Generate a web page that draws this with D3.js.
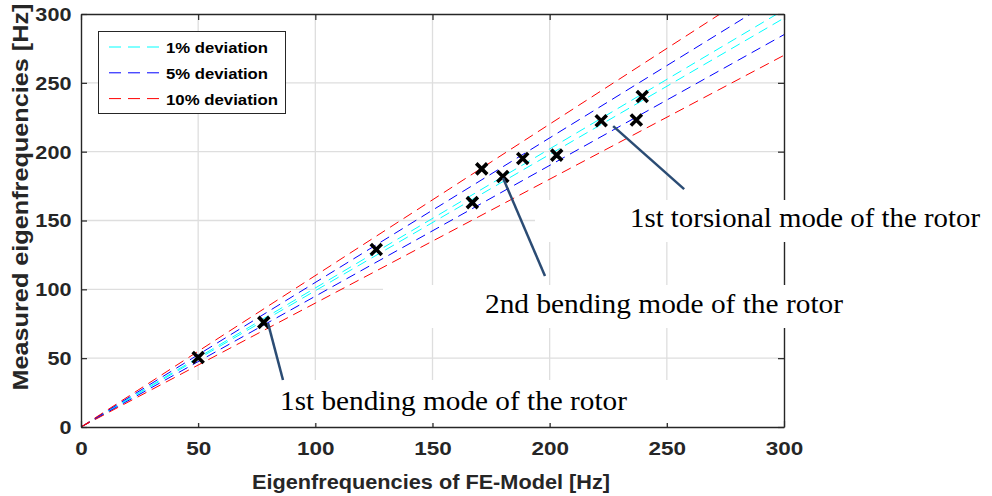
<!DOCTYPE html>
<html>
<head>
<meta charset="utf-8">
<script src="https://cdn.jsdelivr.net/npm/d3@7"></script>
<style>
  body { margin: 0; background: #fff; }
  text { font-family: Arial, "Liberation Sans", Helvetica, sans-serif; }
  text.serif { font-family: "Liberation Serif", "Times New Roman", serif; }
</style>
</head>
<body>
<div id="chart"></div>
<script>
// measured vs. simulated eigenfrequencies [Hz]
const feFreq = [50, 78, 126, 167, 171, 180, 188.5, 203, 222, 237, 239.5]
const measFreq = [50.5, 76, 129, 163, 187.5, 182, 195, 197.5, 222.5, 223, 240]

const deviations = [0.01, 0.05, 0.10]
const deviationNames = ['1% deviation', '5% deviation', '10% deviation']
const deviationColors = ['#00ffff', '#0000ff', '#ff0000']

const tickValues = [0, 50, 100, 150, 200, 250, 300]

const annotationLabels = ['1st bending mode of the rotor', '2nd bending mode of the rotor', '1st torsional mode of the rotor']

const width = 992
const height = 496

let x = d3.scaleLinear().domain([0, 300]).range([81, 784])
let y = d3.scaleLinear().domain([0, 300]).range([427, 14])

let svg = d3.select('#chart')
            .append('svg')
            .attr('width', width)
            .attr('height', height)

svg.append('defs').append('clipPath')
    .attr('id', 'plot-clip')
    .append('rect')
    .attr('x', x(0))
    .attr('y', y(300))
    .attr('width', x(300) - x(0))
    .attr('height', y(0) - y(300))

// grid
let grid = svg.append('g').attr('stroke', '#dedede').attr('stroke-width', 1.3)
grid.selectAll('.gx')
    .data(tickValues.slice(1, -1))
    .enter()
    .append('line')
    .attr('x1', d => x(d)).attr('x2', d => x(d))
    .attr('y1', y(0)).attr('y2', y(300))
grid.selectAll('.gy')
    .data(tickValues.slice(1, -1))
    .enter()
    .append('line')
    .attr('x1', x(0)).attr('x2', x(300))
    .attr('y1', d => y(d)).attr('y2', d => y(d))

// deviation bands: y = x * (1 +/- d)
let bandLines = []
deviations.forEach((d, i) => {
    bandLines.push({ k: 1 + d, color: deviationColors[i] })
    bandLines.push({ k: 1 - d, color: deviationColors[i] })
})

let line = d3.line().x(p => x(p[0])).y(p => y(p[1]))

svg.append('g')
    .attr('clip-path', 'url(#plot-clip)')
    .selectAll('path')
    .data(bandLines)
    .enter()
    .append('path')
    .attr('d', b => line([[0, 0], [300, 300 * b.k]]))
    .attr('fill', 'none')
    .attr('stroke', b => b.color)
    .attr('stroke-width', 1)
    .attr('stroke-dasharray', '10,6')

// measured points
svg.append('g')
    .selectAll('path')
    .data(feFreq)
    .enter()
    .append('path')
    .attr('transform', (d, i) => `translate(${x(d)},${y(measFreq[i])})`)
    .attr('d', 'M-5.5,-5.5L5.5,5.5M-5.5,5.5L5.5,-5.5')
    .attr('stroke', '#000')
    .attr('stroke-width', 3.6)

// axes with inward ticks on all sides
function styleAxis(g) {
    g.select('.domain').attr('stroke', '#262626').attr('stroke-width', 1.4)
    g.selectAll('.tick line').attr('stroke', '#262626').attr('stroke-width', 1.2)
    g.selectAll('.tick text')
        .attr('fill', '#262626')
        .attr('font-size', 18)
        .attr('font-weight', 'bold')
}

let xAxis = svg.append('g')
    .attr('transform', `translate(0,${y(0)})`)
    .call(d3.axisBottom(x).tickValues(tickValues).tickSizeInner(-6).tickSizeOuter(0).tickPadding(15))
styleAxis(xAxis)
xAxis.selectAll('.tick text').attr('transform', 'scale(1.25,1)')

let yAxis = svg.append('g')
    .attr('transform', `translate(${x(0)},0)`)
    .call(d3.axisLeft(y).tickValues(tickValues).tickSizeInner(-6).tickSizeOuter(0).tickPadding(8))
styleAxis(yAxis)
yAxis.selectAll('.tick text').attr('transform', 'scale(1.2,1)').attr('dy', '0.36em')

let xTop = svg.append('g')
    .attr('transform', `translate(0,${y(300)})`)
    .call(d3.axisTop(x).tickValues(tickValues).tickSizeInner(-6).tickSizeOuter(0).tickFormat(''))
styleAxis(xTop)

let yRight = svg.append('g')
    .attr('transform', `translate(${x(300)},0)`)
    .call(d3.axisRight(y).tickValues(tickValues).tickSizeInner(-6).tickSizeOuter(0).tickFormat(''))
styleAxis(yRight)

// axis labels
svg.append('text')
    .attr('x', 431)
    .attr('y', 489)
    .attr('text-anchor', 'middle')
    .attr('font-size', 21)
    .attr('font-weight', 'bold')
    .attr('fill', '#262626')
    .attr('textLength', 358)
    .attr('lengthAdjust', 'spacingAndGlyphs')
    .text('Eigenfrequencies of FE-Model [Hz]')

svg.append('text')
    .attr('transform', 'translate(28,197) rotate(-90)')
    .attr('text-anchor', 'middle')
    .attr('font-size', 22)
    .attr('font-weight', 'bold')
    .attr('fill', '#262626')
    .attr('textLength', 387)
    .attr('lengthAdjust', 'spacingAndGlyphs')
    .text('Measured eigenfrequencies [Hz]')

// legend
let legend = svg.append('g')
legend.append('rect')
    .attr('x', 98.5).attr('y', 31.5)
    .attr('width', 187).attr('height', 82)
    .attr('fill', '#fff')
    .attr('stroke', '#262626')
    .attr('stroke-width', 1)

let legendRows = legend.selectAll('.row')
    .data(deviationNames)
    .enter()
    .append('g')
    .attr('transform', (d, i) => `translate(0,${47 + i * 25.8})`)
legendRows.append('line')
    .attr('x1', 109).attr('x2', 161)
    .attr('stroke', (d, i) => deviationColors[i])
    .attr('stroke-width', 1)
    .attr('stroke-dasharray', '12,7')
legendRows.append('text')
    .attr('x', 166)
    .attr('y', 6)
    .attr('font-size', 15)
    .attr('font-weight', 'bold')
    .attr('fill', '#000')
    .attr('textLength', (d, i) => i === 2 ? 112 : 102)
    .attr('lengthAdjust', 'spacingAndGlyphs')
    .text(d => d)

// annotations: text boxes, then the pointer lines on top
let annotations = [
    { label: annotationLabels[0], from: [79.8, 75.5], to: [86.2, 34.1], box: [178, 380, 550, 43], tx: 280, ty: 410, len: 347 },
    { label: annotationLabels[1], from: [180.1, 180.8], to: [198, 109.7], box: [383, 285, 562, 43], tx: 485, ty: 313, len: 358 },
    { label: annotationLabels[2], from: [227.1, 218.6], to: [257.4, 172.8], box: [535, 200, 457, 42], tx: 630, ty: 227, len: 350 }
]

let boxes = svg.append('g')
    .selectAll('g')
    .data(annotations)
    .enter()
    .append('g')
boxes.append('rect')
    .attr('x', a => a.box[0]).attr('y', a => a.box[1])
    .attr('width', a => a.box[2]).attr('height', a => a.box[3])
    .attr('fill', '#fff')
boxes.append('text')
    .attr('class', 'serif')
    .attr('x', a => a.tx)
    .attr('y', a => a.ty)
    .attr('font-size', 27)
    .attr('fill', '#000')
    .attr('textLength', a => a.len)
    .attr('lengthAdjust', 'spacingAndGlyphs')
    .text(a => a.label)

svg.append('g')
    .selectAll('line')
    .data(annotations)
    .enter()
    .append('line')
    .attr('x1', a => x(a.from[0])).attr('y1', a => y(a.from[1]))
    .attr('x2', a => x(a.to[0])).attr('y2', a => y(a.to[1]))
    .attr('stroke', '#2b4c74')
    .attr('stroke-width', 2.5)
</script>
</body>
</html>
